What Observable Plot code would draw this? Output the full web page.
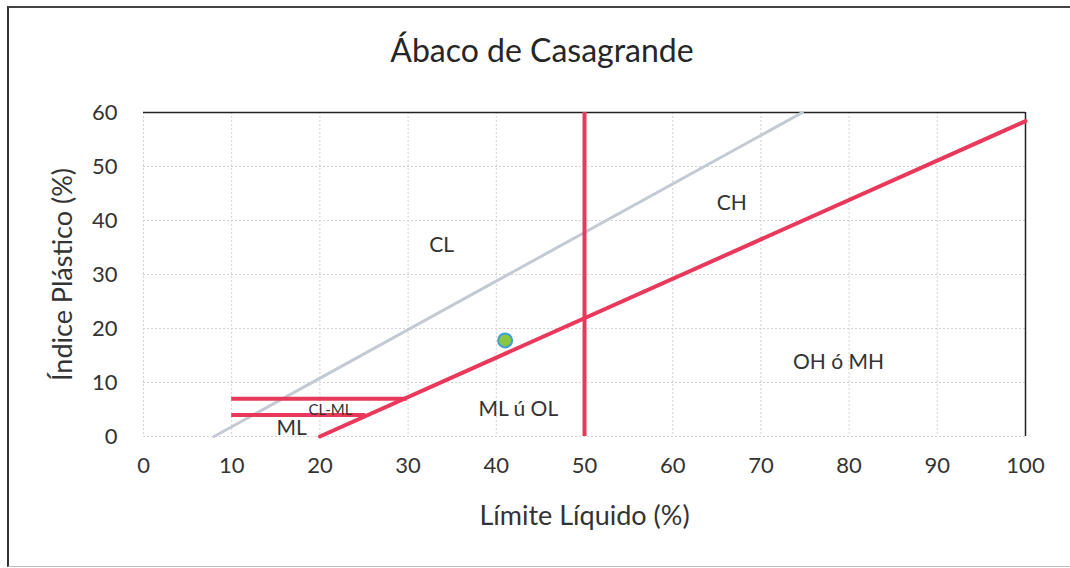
<!DOCTYPE html>
<html>
<head>
<meta charset="utf-8">
<script src="https://cdn.jsdelivr.net/npm/d3@7"></script>
<script src="https://cdn.jsdelivr.net/npm/@observablehq/plot@0.6"></script>
<style>
  html, body { margin: 0; padding: 0; background: #fff; overflow: hidden; }
  #wrap { position: relative; width: 1070px; height: 568px; overflow: hidden; font-family: Lato, "Open Sans", sans-serif; }
  #frame { position: absolute; left: 7px; top: 6px; width: 1200px; height: 561px; border-left: 2px solid #333; border-top: 2px solid #444; border-bottom: 1px solid #bbb; border-right: none; box-sizing: border-box; }
  #title { position: absolute; left: 0; width: 1084px; top: 30px; text-align: center; font-size: 32px; color: #262626; }
  #chart { position: absolute; left: 0; top: 0; }
</style>
</head>
<body>
<div id="wrap">
  <div id="frame"></div>
  <div id="title">Ábaco de Casagrande</div>
  <div id="chart"></div>
</div>
<script>
// Data
const xTicks = [0, 10, 20, 30, 40, 50, 60, 70, 80, 90, 100];
const yTicks = [0, 10, 20, 30, 40, 50, 60];
const aLineLL = [20, 100];
const aLinePI = [0, 58.4];
const uLineLL = [8, 74.7];
const uLinePI = [0, 60];
const limitLL = [50];
const limitPI = [0, 60];
const clmlLL7 = [10, 29.9];
const clmlLL4 = [10, 25.2];
const clmlPI = [7, 4];
const sampleLL = [41];
const sampleIP = [17.8];
const zoneNames = ["CL", "CH", "OH ó MH", "ML ú OL", "CL-ML", "ML"];
const zoneLL = [33.8, 66.7, 78.8, 42.5, 21.2, 16.8];
const zonePI = [35.4, 43.1, 13.7, 5.0, 4.8, 1.5];
const xLabel = "Límite Líquido (%)";
const yLabel = "Índice Plástico (%)";

const aLine = aLineLL.map((x, i) => ({x, y: aLinePI[i]}));
const uLine = uLineLL.map((x, i) => ({x, y: uLinePI[i]}));
const hLines = [
  {x1: clmlLL7[0], x2: clmlLL7[1], y: clmlPI[0]},
  {x1: clmlLL4[0], x2: clmlLL4[1], y: clmlPI[1]}
];
const zones = zoneNames.map((t, i) => ({t, x: zoneLL[i], y: zonePI[i], small: t === "CL-ML"}));
const samples = sampleLL.map((x, i) => ({x, y: sampleIP[i]}));

const red = "#e9385a";
const gray = "#c3cad3";

const chart = Plot.plot({
  width: 1070,
  height: 568,
  marginLeft: 143,
  marginRight: 45,
  marginTop: 112,
  marginBottom: 132,
  style: {fontFamily: 'Lato, "Open Sans", sans-serif', background: "transparent", color: "#333"},
  x: {domain: [0, 100], ticks: xTicks},
  y: {domain: [0, 60], ticks: yTicks},
  marks: [
    Plot.gridX(xTicks, {stroke: "#d2d2d2", strokeOpacity: 1, strokeDasharray: "2,2"}),
    Plot.gridY(yTicks, {stroke: "#d2d2d2", strokeOpacity: 1, strokeDasharray: "2,2"}),
    Plot.ruleY([60], {stroke: "#222", strokeWidth: 1.5}),
    Plot.ruleX([100], {stroke: "#222", strokeWidth: 1.5}),
    Plot.axisX(xTicks, {tickSize: 0, tickPadding: 21, fontSize: 22, label: null, fill: "#333"}),
    Plot.axisY(yTicks, {tickSize: 0, tickPadding: 26, fontSize: 22, label: null, fill: "#333"}),
    Plot.line(uLine, {x: "x", y: "y", stroke: gray, strokeWidth: 3}),
    Plot.ruleX(limitLL, {y1: limitPI[0], y2: limitPI[1], stroke: red, strokeWidth: 4}),
    Plot.ruleY(hLines, {x1: "x1", x2: "x2", y: "y", stroke: red, strokeWidth: 4}),
    Plot.line(aLine, {x: "x", y: "y", stroke: red, strokeWidth: 4}),
    Plot.dot(samples, {x: "x", y: "y", r: 7, fill: "#8cc63f", stroke: "#3f9fd8", strokeWidth: 2}),
    Plot.text(zones, {x: "x", y: "y", text: "t", fontSize: d => d.small ? 15 : 21, fill: "#333"}),
    Plot.text([xLabel], {frameAnchor: "bottom", dy: 88, fontSize: 27, fill: "#333"}),
    Plot.text([yLabel], {frameAnchor: "left", textAnchor: "middle", dx: -80, rotate: -90, fontSize: 27, fill: "#333"})
  ]
});
document.getElementById("chart").appendChild(chart);
</script>
</body>
</html>
